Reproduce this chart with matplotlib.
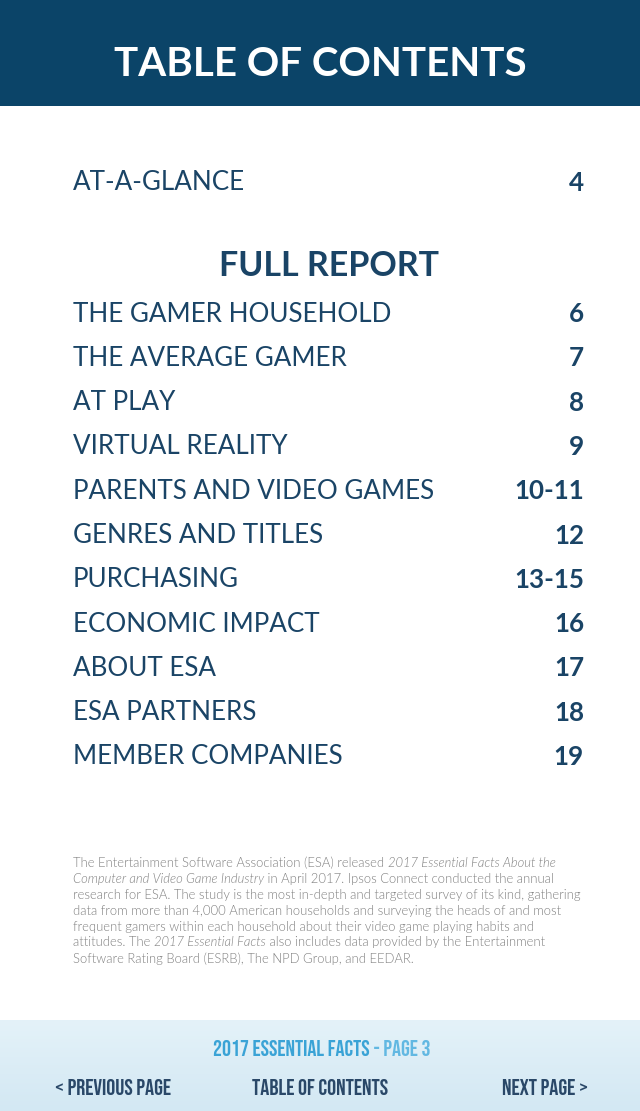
import numpy as np
import matplotlib.pyplot as plt
from matplotlib.colors import LinearSegmentedColormap

# Table of contents content
title = "TABLE OF CONTENTS"
glance_label = "AT-A-GLANCE"
glance_page = "4"
report_heading = "FULL REPORT"
sections = ["THE GAMER HOUSEHOLD", "THE AVERAGE GAMER", "AT PLAY", "VIRTUAL REALITY",
            "PARENTS AND VIDEO GAMES", "GENRES AND TITLES", "PURCHASING",
            "ECONOMIC IMPACT", "ABOUT ESA", "ESA PARTNERS", "MEMBER COMPANIES"]
pages = ["6", "7", "8", "9", "10-11", "12", "13-15", "16", "17", "18", "19"]

# note paragraph, each line split into (text, italic) pieces
note_lines = [
    [("The Entertainment Software Association (ESA) released ", False),
     ("2017 Essential Facts About the", True)],
    [("Computer and Video Game Industry", True), (" in April 2017. Ipsos Connect conducted the annual", False)],
    [("research for ESA. The study is the most in-depth and targeted survey of its kind, gathering", False)],
    [("data from more than 4,000 American households and surveying the heads of and most", False)],
    [("frequent gamers within each household about their video game playing habits and", False)],
    [("attitudes. The ", False), ("2017 Essential Facts", True),
     (" also includes data provided by the Entertainment", False)],
    [("Software Rating Board (ESRB), The NPD Group, and EEDAR.", False)],
]

footer_bold = "2017 ESSENTIAL FACTS"
footer_light = " - PAGE 3"
nav_labels = ["< PREVIOUS PAGE", "TABLE OF CONTENTS", "NEXT PAGE >"]

navy = "#0b4468"
ink = "#1a4466"
W, H = 640, 1111

fig = plt.figure(figsize=(W / 100, H / 100), dpi=100)
ax = fig.add_axes([0, 0, 1, 1])
ax.axis("off")

# header band
ax.add_patch(plt.Rectangle((0, 0), W, 106, color=navy, lw=0))
ax.text(W / 2, 64, title, color="white", fontsize=29, fontweight="bold",
        family="Lato", ha="center", va="center")

# at-a-glance row
ax.text(73, 183, glance_label, color=ink, fontsize=18.7, family="Lato", va="center")
ax.text(584, 183, glance_page, color=ink, fontsize=18.7, family="Lato",
        fontweight="bold", va="center", ha="right")

ax.text(329, 266, report_heading, color=ink, fontsize=24.5, family="Lato",
        fontweight="bold", ha="center", va="center")

row_y = 314 + 44.3 * np.arange(len(sections))
for y, name, pg in zip(row_y, sections, pages):
    ax.text(73, y, name, color=ink, fontsize=18.7, family="Lato", va="center")
    ax.text(584, y, pg, color=ink, fontsize=18.7, family="Lato",
            fontweight="bold", va="center", ha="right")

# paragraph, drawn piece by piece so italics sit inline
renderer = fig.canvas.get_renderer()
for i, line in enumerate(note_lines):
    x = 73
    y = 863 + 15.9 * i
    for txt, ital in line:
        t = ax.text(x, y, txt, color="#808080", fontsize=9.35, family="Lato",
                    fontweight=300, style="italic" if ital else "normal", va="center")
        bb = t.get_window_extent(renderer)
        x += bb.width

# footer band with soft gradient
grad = np.linspace(0, 1, 100).reshape(-1, 1)
cmap = LinearSegmentedColormap.from_list("ft", ["#e4f2f9", "#d3e8f3"])
ax.imshow(grad, extent=(0, W, H, 1020), cmap=cmap, aspect="auto", zorder=0)
ax.set_xlim(0, W)
ax.set_ylim(H, 0)

cond = ["Bebas Neue", "Oswald", "Roboto Condensed", "DejaVu Sans"]
t1 = ax.text(213, 1048, footer_bold, color="#3aa3d6", fontsize=16.2,
             family=cond, va="center")
bb = t1.get_window_extent(renderer)
ax.text(213 + bb.width, 1048, footer_light, color="#62b8e2", fontsize=16.2,
        family=cond, va="center")

ax.text(55, 1087, nav_labels[0], color="#2a4868", fontsize=16.3,
        family=cond, va="center", ha="left")
ax.text(320, 1087, nav_labels[1], color="#2a4868", fontsize=16.3,
        family=cond, va="center", ha="center")
ax.text(588, 1087, nav_labels[2], color="#2a4868", fontsize=16.3,
        family=cond, va="center", ha="right")

fig.savefig("out.png", dpi=100)
